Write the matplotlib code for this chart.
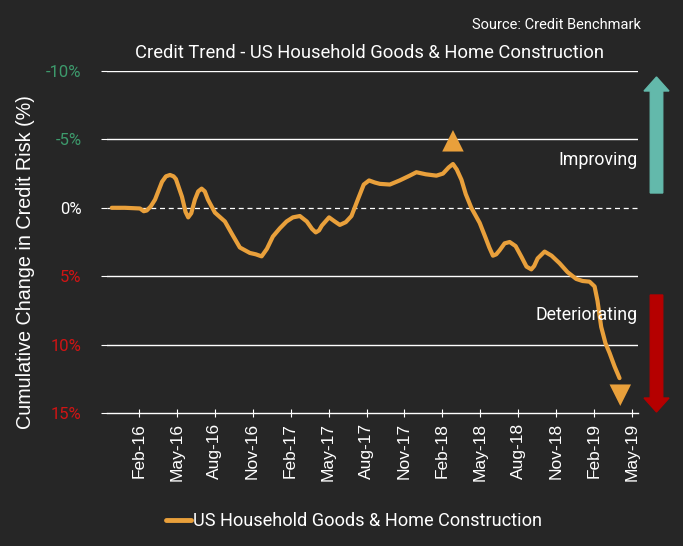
import matplotlib
matplotlib.use("Agg")
import matplotlib.pyplot as plt
from matplotlib.patches import FancyArrow

# ---- data ----
# time in months relative to 1 Feb 2016
months = [-2.13, -1.08, 0.10, 0.40, 0.63, 0.95, 1.29, 1.84, 2.15, 2.47, 2.75, 2.94,
          3.42, 3.70, 3.91, 4.15, 4.44, 4.70, 4.97, 5.22,
          5.47, 6.02, 6.81, 7.36, 7.99, 8.78, 9.25, 9.71, 10.13, 10.60, 11.15, 11.68,
          12.18, 12.73, 13.28, 13.70, 13.99, 14.25, 14.47, 15.04, 15.49, 15.89, 16.36,
          16.81, 17.31, 17.78, 18.20, 18.65, 19.05, 19.84, 20.62, 21.41, 21.94, 22.68,
          23.52, 24.04, 24.49, 24.83, 25.13, 25.50, 25.84, 26.28, 26.94, 27.41,
          27.70, 27.99, 28.25, 28.52, 28.91, 29.31, 29.78, 30.25, 30.64, 31.02, 31.25,
          31.52, 32.07, 32.62, 33.25, 33.88, 34.57, 35.07, 35.62, 36.02, 36.25, 36.54,
          36.88, 37.20, 37.60, 37.99]
values = [0.0, 0.0, 0.05, 0.25, 0.2, -0.1, -0.6, -1.9, -2.3, -2.4, -2.3, -2.1,
          -0.8, 0.3, 0.7, 0.4, -0.6, -1.2, -1.4, -1.2,
          -0.6, 0.35, 1.0, 1.9, 2.9, 3.3, 3.4, 3.55, 3.0, 2.1, 1.5, 1.0,
          0.7, 0.6, 1.0, 1.55, 1.8, 1.65, 1.3, 0.7, 1.0, 1.25, 1.05,
          0.6, -0.6, -1.7, -2.0, -1.85, -1.75, -1.7, -2.0, -2.35, -2.6, -2.45,
          -2.35, -2.5, -2.95, -3.2, -2.8, -2.05, -1.0, 0.0, 1.1, 2.2,
          2.9, 3.5, 3.4, 3.1, 2.6, 2.5, 2.8, 3.6, 4.3, 4.5, 4.25,
          3.7, 3.2, 3.5, 4.05, 4.7, 5.2, 5.35, 5.4, 5.75, 6.8, 8.7,
          9.9, 10.6, 11.6, 12.45]
tick_months = [0, 3, 6, 9, 12, 15, 18, 21, 24, 27, 30, 33, 36, 39]
tick_labels = ["Feb-16", "May-16", "Aug-16", "Nov-16", "Feb-17", "May-17", "Aug-17",
               "Nov-17", "Feb-18", "May-18", "Aug-18", "Nov-18", "Feb-19", "May-19"]
y_ticks = [-10, -5, 0, 5, 10, 15]
y_labels = ["-10%", "-5%", "0%", "5%", "10%", "15%"]
y_colors = ["#3d9a6c", "#3d9a6c", "#ffffff", "#d01414", "#d01414", "#d01414"]
series_name = "US Household Goods & Home Construction"
peak_marker = (24.83, -4.9)
trough_marker = (38.05, 13.7)

BG = "#262626"
ORANGE = "#E9A03B"
plt.rcParams['font.family'] = ['Roboto', 'DejaVu Sans']
ARIAL = ['Liberation Sans', 'DejaVu Sans']

fig = plt.figure(figsize=(6.83, 5.46), dpi=100, facecolor=BG)
ax = fig.add_axes([106.7/683, 1-413/546, (638-106.7)/683, (413-71)/546])
ax.set_facecolor(BG)

ax.set_xlim(-2.53, 39.45)
ax.set_ylim(15, -10)

for yv in [-10, -5, 5, 10]:
    ax.axhline(yv, color="white", lw=1.0, zorder=1)
ax.axhline(0, color="white", lw=0.9, ls=(0, (4, 3)), zorder=1)

ax.plot(months, values, color=ORANGE, lw=3.0, solid_joinstyle="round",
        solid_capstyle="round", zorder=3, label=series_name)

ax.scatter([peak_marker[0]], [peak_marker[1]], marker="^", s=240, color=ORANGE,
           edgecolors="none", zorder=4)
ax.scatter([trough_marker[0]], [trough_marker[1]], marker="v", s=240, color=ORANGE,
           edgecolors="none", zorder=4)

for s in ["top", "right", "left"]:
    ax.spines[s].set_visible(False)
ax.spines["bottom"].set_color("white")
ax.spines["bottom"].set_linewidth(1.0)

ax.set_xticks(tick_months)
ax.set_xticklabels(tick_labels, rotation=90, color="white", fontsize=12.5,
                   family=ARIAL)
ax.tick_params(axis="x", direction="inout", length=6, color="white", pad=4)

ax.set_yticks(y_ticks)
ax.set_yticklabels(y_labels, fontsize=12)
for lbl, c in zip(ax.get_yticklabels(), y_colors):
    lbl.set_color(c)
ax.tick_params(axis="y", direction="out", length=4, color="white", pad=14)

ax.set_ylabel("Cumulative Change in Credit Risk (%)", color="white", fontsize=14.2,
              family=ARIAL)
ax.yaxis.set_label_coords((35-106.7)/531.3, 1-(262-71)/342)

ax.text(1.0, 1-(160-71)/342, "Improving", transform=ax.transAxes, ha="right",
        va="center", color="white", fontsize=12.8)
ax.text(1.0, 1-(315-71)/342, "Deteriorating", transform=ax.transAxes, ha="right",
        va="center", color="white", fontsize=12.8)

# direction arrows (figure coords in pixels)
def arrow(x, y0, y1, color):
    W, H = 683, 546
    fig.patches.append(FancyArrow(x/W, 1-y0/H, 0, -(y1-y0)/H, width=12.5/W,
                                  head_width=25/W, head_length=14/H,
                                  length_includes_head=True, color=color,
                                  transform=fig.transFigure, figure=fig))
arrow(656.5, 193, 77, "#63b9ab")
arrow(656.5, 295, 412, "#b50000")

fig.text(369/683, 1-53/546, "Credit Trend - US Household Goods & Home Construction",
         ha="center", va="center", color="white", fontsize=13.2)
fig.text(641/683, 1-25/546, "Source: Credit Benchmark", ha="right", va="center",
         color="white", fontsize=10.5)

leg = fig.legend(loc="center", bbox_to_anchor=(354/683, 1-521/546), frameon=False,
                 handlelength=1.4, handletextpad=0.1, fontsize=13.1,
                 labelcolor="white")
for h in leg.get_lines():
    h.set_linewidth(3.5)

fig.savefig("out.png", dpi=100, facecolor=BG)
